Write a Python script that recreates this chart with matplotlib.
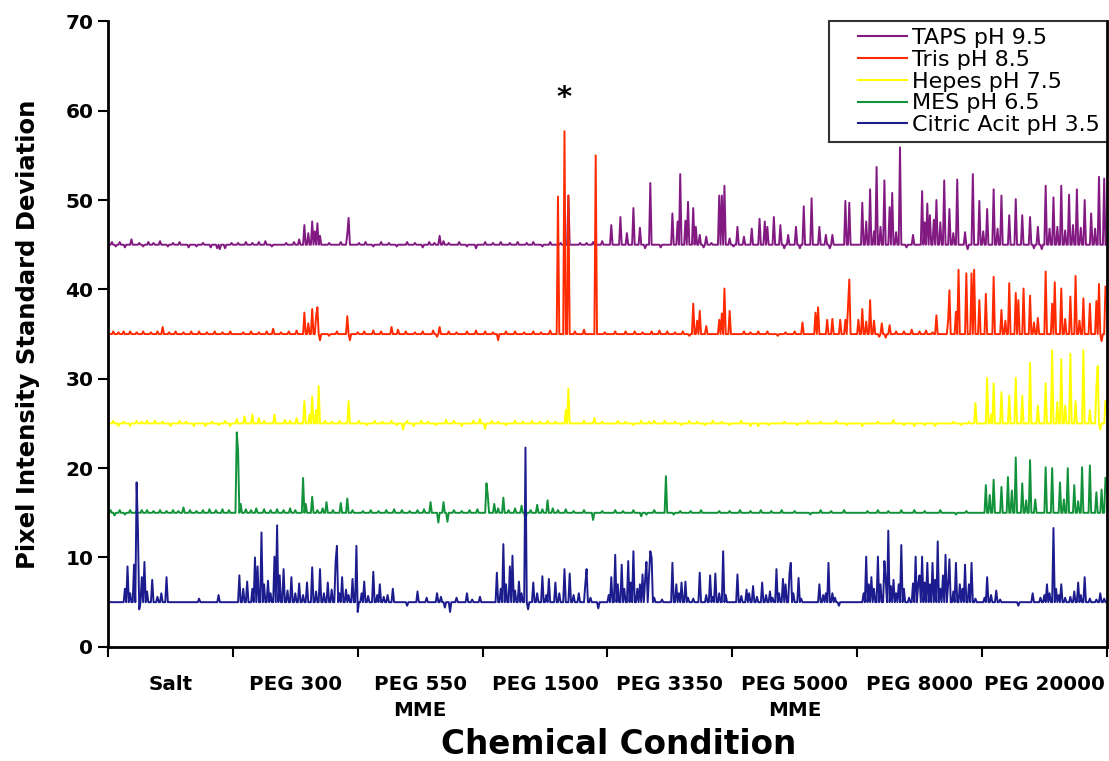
import numpy as np
import matplotlib as mpl
mpl.use('Agg')
import matplotlib.pyplot as plt
from matplotlib.legend_handler import HandlerLine2D

plt.rcParams['font.family'] = ['DejaVu Sans']

## 8 groups of 96 screening conditions
groups = ["Salt", "PEG 300", "PEG 550\nMME", "PEG 1500", "PEG 3350",
          "PEG 5000\nMME", "PEG 8000", "PEG 20000"]
per_group = 96

names = ["TAPS pH 9.5", "Tris pH 8.5", "Hepes pH 7.5", "MES pH 6.5", "Citric Acit pH 3.5"]
colors = ["#821a82", "#ff2a00", "#ffff00", "#12923a", "#1c1c8e"]
baselines = [45, 35, 25, 15, 5]

## (condition, std dev) for every point that leaves the baseline
taps = [(18, 45.6), (40, 45.4), (62, 44.7), (90, 44.6), (151, 47.2), (154, 46.3),
        (157, 47.6), (159, 46.5), (161, 47.4), (163, 46.0), (185, 48.0), (184, 46.2),
        (255, 46.0), (354, 50.5), (387, 47.2), (394, 48.1), (399, 46.3), (404, 49.1),
        (409, 46.9), (417, 51.9), (434, 48.5), (438, 47.6), (440, 52.9), (444, 47.7),
        (446, 49.8), (450, 49.1), (452, 47.0), (455, 46.1), (460, 45.9), (470, 50.5),
        (472, 50.5), (474, 51.6), (478, 45.7), (484, 47.0), (489, 45.9), (495, 46.8),
        (501, 47.9), (505, 47.6), (507, 47.0), (512, 48.1), (517, 47.2), (523, 46.1),
        (529, 47.0), (535, 49.3), (541, 50.2), (547, 47.0), (552, 46.1), (557, 46.1),
        (567, 49.9), (570, 49.7), (580, 49.7), (583, 47.6), (586, 51.2), (589, 46.5),
        (591, 53.7), (594, 47.0), (597, 52.2), (601, 49.2), (603, 50.8), (606, 46.4),
        (609, 55.9), (619, 46.1), (626, 51.0), (628, 47.5), (630, 49.6), (632, 48.3),
        (635, 47.8), (637, 50.0), (640, 47.5), (643, 52.2), (647, 49.0), (650, 46.3),
        (653, 52.3), (659, 46.4), (665, 52.9), (670, 49.9), (673, 46.5), (676, 49.0),
        (681, 51.2), (684, 46.8), (687, 50.5), (693, 48.3), (698, 50.1), (703, 48.3),
        (709, 48.1), (715, 47.0), (721, 51.6), (724, 46.8), (727, 50.3), (730, 47.0),
        (733, 51.6), (736, 46.6), (739, 50.6), (742, 47.2), (745, 51.2), (748, 46.9),
        (751, 50.0), (756, 48.5), (759, 46.8), (762, 52.6), (766, 52.4),
        # small wobble along the baseline
        (3, 45.3), (6, 44.8), (9, 45.3), (13, 44.7), (24, 45.2), (27, 44.8),
        (31, 45.3), (35, 45.2), (46, 44.8), (50, 45.2), (55, 45.3), (68, 44.8),
        (73, 45.2), (79, 44.7), (84, 44.6), (86, 44.5), (95, 45.2), (100, 45.2),
        (106, 45.3), (111, 45.2), (116, 45.3), (121, 45.4), (126, 44.8), (137, 45.2),
        (143, 45.3), (147, 45.6), (170, 45.2), (179, 45.3), (193, 45.2), (198, 45.3),
        (204, 44.8), (210, 45.3), (216, 45.2), (222, 44.8), (230, 45.3), (236, 45.2),
        (242, 44.7), (247, 45.3), (251, 45.2), (258, 45.4), (262, 45.2), (270, 45.3),
        (276, 44.8), (283, 44.6), (290, 45.3), (296, 45.2), (302, 45.3), (309, 45.2),
        (315, 45.3), (322, 45.2), (327, 45.3), (334, 44.8), (340, 45.3), (348, 45.2),
        (363, 45.2), (368, 45.2), (373, 45.3), (380, 45.4), (413, 44.6), (425, 44.7),
        (458, 44.7), (464, 45.2), (481, 44.8), (520, 44.6), (532, 44.6), (555, 44.6),
        (614, 44.7), (661, 44.5), (712, 44.6), (718, 44.5)]

tris = [(12, 35.3), (42, 35.8), (70, 35.3), (127, 35.6), (151, 37.4), (154, 36.2),
        (157, 37.8), (160, 37.0), (161, 38.0), (163, 34.3), (184, 37.0), (186, 34.3),
        (218, 35.8), (255, 35.8), (300, 34.3), (346, 50.4), (351, 57.7), (354, 50.5),
        (375, 55.0), (398, 35.3), (450, 38.4), (453, 36.5), (455, 37.6), (460, 35.9),
        (470, 36.6), (472, 37.3), (474, 40.1), (478, 37.6), (534, 36.3), (544, 37.4),
        (546, 38.0), (553, 36.6), (557, 36.7), (563, 36.6), (567, 36.6), (569, 38.0),
        (570, 41.1), (577, 36.6), (580, 37.8), (583, 36.4), (586, 38.8), (589, 36.5),
        (595, 36.2), (601, 36.0), (618, 35.5), (637, 37.1), (646, 36.5), (647, 39.9),
        (652, 37.5), (654, 42.2), (660, 41.8), (664, 41.8), (666, 42.2), (670, 38.8),
        (675, 39.5), (681, 41.4), (687, 37.7), (690, 36.5), (693, 40.7), (698, 39.6),
        (700, 38.8), (704, 40.1), (709, 39.3), (712, 36.3), (715, 36.8), (721, 42.0),
        (726, 38.4), (728, 40.8), (733, 40.1), (736, 36.7), (740, 39.2), (744, 41.5),
        (747, 36.5), (750, 39.0), (755, 38.4), (760, 38.7), (762, 40.6), (764, 34.2),
        (767, 40.3),
        # small wobble along the baseline
        (4, 35.3), (8, 35.2), (17, 35.3), (22, 35.2), (27, 35.3), (33, 35.2),
        (38, 35.3), (47, 35.2), (52, 35.3), (58, 35.2), (64, 35.3), (76, 35.2),
        (82, 35.3), (88, 35.2), (94, 35.3), (104, 35.2), (110, 35.3), (116, 35.2),
        (122, 35.3), (133, 35.2), (139, 35.3), (145, 35.4), (170, 34.8), (176, 35.3),
        (192, 35.2), (197, 35.3), (204, 35.4), (210, 35.3), (223, 35.5), (229, 35.3),
        (236, 35.2), (242, 35.3), (250, 35.4), (253, 34.7), (262, 35.3), (268, 35.2),
        (276, 35.3), (283, 35.4), (290, 35.3), (296, 35.2), (306, 35.3), (313, 35.3),
        (320, 35.2), (327, 35.3), (333, 35.2), (340, 35.4), (359, 35.3), (366, 35.5),
        (382, 35.2), (390, 35.3), (405, 35.3), (411, 35.2), (418, 35.3), (424, 35.4),
        (430, 35.3), (436, 35.2), (442, 35.3), (447, 34.8), (489, 35.3), (494, 35.2),
        (500, 35.3), (507, 35.3), (515, 34.8), (521, 35.2), (528, 35.3), (593, 34.7),
        (598, 34.6), (606, 35.3), (612, 35.3), (624, 35.3), (629, 35.4), (634, 35.2)]

hepes = [(8, 24.7), (30, 25.3), (75, 24.7), (99, 25.5), (105, 25.8), (111, 26.0),
         (116, 25.6), (128, 26.0), (145, 25.6), (151, 27.5), (155, 26.0), (157, 28.0),
         (160, 26.5), (162, 29.2), (185, 27.5), (227, 24.3), (260, 25.4), (290, 24.4),
         (352, 26.5), (354, 28.9), (374, 25.6), (420, 25.3), (500, 24.7), (560, 25.3),
         (604, 25.4), (667, 27.3), (676, 30.1), (679, 26.0), (681, 29.5), (687, 28.5),
         (693, 28.1), (698, 30.1), (703, 28.1), (709, 31.8), (715, 27.0), (721, 29.5),
         (726, 33.2), (730, 27.4), (733, 32.2), (736, 27.0), (740, 32.8), (744, 27.5),
         (750, 33.2), (755, 26.5), (760, 29.0), (761, 31.4), (763, 24.3), (767, 27.5),
         # small wobble along the baseline
         (4, 25.3), (12, 25.2), (17, 24.7), (22, 25.3), (26, 25.2), (36, 25.3),
         (42, 25.2), (48, 24.7), (55, 25.3), (60, 25.2), (66, 24.7), (80, 25.2),
         (85, 24.8), (90, 25.3), (94, 24.7), (120, 25.3), (136, 25.4), (140, 25.3),
         (167, 25.3), (172, 25.2), (178, 25.3), (193, 25.3), (199, 24.8), (205, 25.3),
         (211, 25.2), (218, 25.3), (222, 24.8), (230, 25.3), (235, 24.7), (241, 25.3),
         (246, 25.2), (252, 24.8), (266, 25.3), (272, 24.7), (281, 25.3), (286, 25.5),
         (295, 25.3), (300, 25.2), (306, 24.8), (313, 25.3), (319, 25.2), (326, 25.3),
         (332, 25.2), (338, 25.3), (344, 25.2), (366, 25.3), (380, 25.2), (392, 25.3),
         (398, 25.2), (404, 24.8), (410, 25.3), (416, 25.2), (428, 25.3), (436, 25.2),
         (441, 24.8), (447, 25.3), (453, 25.2), (459, 24.8), (465, 25.3), (472, 25.2),
         (478, 24.8), (487, 25.3), (494, 24.7), (508, 24.8), (520, 25.2), (530, 24.8),
         (538, 25.3), (548, 25.2), (568, 24.8), (580, 24.7), (592, 25.2), (612, 24.8),
         (620, 24.7), (628, 24.8), (636, 24.7), (650, 25.2), (656, 24.8), (662, 25.2)]

mes = [(5, 14.7), (30, 15.3), (58, 15.6), (99, 24.0), (100, 22.0), (102, 16.0),
       (120, 15.4), (150, 18.9), (152, 16.0), (157, 16.8), (168, 16.2), (179, 16.1),
       (184, 16.6), (248, 16.2), (254, 13.9), (258, 16.2), (261, 14.0), (291, 18.3),
       (292, 17.0), (297, 16.0), (304, 16.7), (318, 15.8), (321, 14.2), (330, 15.9),
       (338, 16.4), (373, 14.2), (410, 14.6), (429, 19.1), (470, 15.2), (540, 14.8),
       (620, 15.3), (675, 18.1), (678, 17.0), (681, 18.7), (687, 17.9), (692, 19.0),
       (695, 17.5), (698, 21.2), (703, 18.3), (706, 16.4), (709, 20.9), (713, 16.5),
       (721, 20.1), (726, 20.0), (732, 18.4), (735, 16.5), (738, 20.0), (743, 18.1),
       (746, 16.3), (749, 20.1), (755, 20.3), (760, 17.3), (764, 17.6), (767, 18.9),
       # small wobble along the baseline
       (2, 15.3), (9, 15.3), (13, 14.8), (17, 15.3), (22, 15.2), (26, 15.3),
       (35, 15.2), (40, 15.3), (45, 15.2), (50, 15.3), (54, 15.2), (63, 15.3),
       (68, 15.2), (73, 15.3), (78, 15.4), (83, 15.3), (88, 15.4), (93, 15.3),
       (106, 15.4), (110, 15.3), (114, 15.5), (125, 15.3), (130, 15.4), (135, 15.3),
       (140, 15.5), (144, 15.3), (161, 15.3), (165, 15.5), (173, 15.3), (188, 15.3),
       (196, 15.2), (202, 15.3), (208, 15.2), (214, 15.3), (220, 15.4), (226, 15.3),
       (232, 15.2), (238, 15.3), (243, 15.4), (266, 15.3), (272, 15.2), (278, 15.3),
       (284, 15.4), (300, 15.5), (308, 15.3), (313, 15.5), (325, 15.3), (334, 15.4),
       (342, 15.5), (346, 15.3), (352, 15.4), (358, 15.2), (366, 15.3), (380, 15.2),
       (390, 15.3), (396, 15.2), (404, 15.3), (414, 14.8), (420, 15.3), (435, 14.8),
       (440, 15.2), (448, 15.2), (456, 15.3), (478, 15.2), (486, 15.3), (494, 15.2),
       (502, 15.3), (510, 15.2), (518, 15.3), (528, 15.2), (548, 15.3), (556, 15.2),
       (566, 15.3), (584, 15.2), (592, 15.3), (600, 15.2), (610, 15.3), (628, 15.2),
       (640, 15.3), (652, 14.8), (660, 15.2)]

citric = [(15, 9.0), (20, 9.2), (22, 18.4), (23, 13.1), (24, 4.2), (26, 7.8),
          (28, 9.5), (34, 7.5), (45, 7.8), (70, 5.4), (85, 5.8), (101, 8.0),
          (104, 6.5), (107, 7.3), (113, 10.0), (115, 9.0), (118, 12.8), (120, 7.0),
          (123, 7.4), (128, 10.1), (130, 13.6), (132, 8.0), (135, 8.7), (141, 7.8),
          (147, 7.1), (153, 7.2), (157, 8.9), (163, 8.7), (169, 7.2), (175, 9.5),
          (176, 11.3), (180, 7.8), (188, 7.6), (191, 11.3), (192, 3.9), (197, 7.3),
          (204, 8.4), (209, 7.0), (219, 6.5), (238, 6.2), (253, 6.0), (263, 3.9),
          (276, 6.0), (299, 8.3), (304, 11.5), (309, 9.0), (311, 10.2), (316, 7.3),
          (321, 22.3), (323, 4.2), (327, 7.2), (334, 7.9), (339, 7.6), (344, 7.2),
          (351, 8.7), (355, 8.2), (367, 7.0), (368, 8.7), (377, 4.3), (387, 7.8),
          (390, 10.3), (395, 9.2), (400, 9.6), (404, 10.7), (407, 6.5), (411, 8.1),
          (414, 9.5), (417, 10.7), (418, 10.0), (434, 9.4), (437, 7.0), (441, 7.2),
          (444, 7.3), (455, 8.3), (463, 8.0), (467, 8.2), (473, 10.7), (484, 8.1),
          (491, 6.4), (496, 6.8), (503, 7.2), (509, 6.2), (514, 8.7), (519, 7.6),
          (524, 8.2), (525, 9.4), (531, 7.7), (547, 7.0), (554, 9.4), (557, 6.0),
          (583, 10.1), (587, 7.8), (592, 10.1), (597, 9.6), (600, 13.0), (604, 7.5),
          (610, 11.4), (619, 7.1), (621, 10.1), (626, 10.1), (630, 9.4), (634, 9.4),
          (638, 11.8), (644, 10.3), (647, 9.8), (652, 9.4), (659, 9.2), (664, 9.4),
          (676, 7.8), (683, 6.3), (711, 6.0), (722, 7.0), (727, 13.3), (733, 7.0),
          (746, 7.2), (751, 7.8), (763, 6.0),
          # filler inside the busy stretches
          (13, 6.5), (17, 6.0), (30, 6.2), (38, 5.6), (41, 6.0), (111, 6.5),
          (125, 6.0), (138, 6.3), (144, 6.0), (150, 5.8), (160, 6.2), (166, 6.0),
          (172, 6.4), (178, 6.0), (183, 6.4), (185, 5.8), (195, 6.0), (200, 5.7),
          (207, 5.8), (212, 5.6), (215, 5.8), (230, 4.6), (245, 5.5), (256, 5.6),
          (259, 4.4), (268, 5.5), (280, 5.3), (286, 5.6), (302, 6.5), (306, 7.0),
          (313, 6.3), (318, 6.0), (330, 6.0), (337, 5.8), (347, 6.0), (358, 5.8),
          (362, 6.0), (371, 5.5), (385, 5.8), (392, 7.0), (397, 6.5), (402, 7.2),
          (409, 7.0), (413, 7.5), (416, 8.0), (420, 5.5), (426, 5.3), (439, 6.0),
          (446, 5.5), (450, 5.4), (460, 5.8), (465, 5.6), (470, 6.0), (475, 5.8),
          (487, 5.7), (493, 6.0), (499, 5.6), (506, 5.8), (511, 5.5), (516, 6.0),
          (521, 7.0), (527, 6.0), (533, 5.4), (550, 5.8), (552, 6.0), (559, 5.5),
          (562, 4.6), (581, 6.0), (585, 7.0), (589, 6.5), (594, 7.0), (598, 7.5),
          (602, 6.8), (606, 6.0), (608, 7.0), (612, 6.5), (616, 5.5), (623, 7.0),
          (624, 8.0), (628, 7.2), (632, 7.0), (636, 7.5), (640, 6.5), (642, 8.0),
          (646, 7.0), (650, 6.2), (655, 7.0), (657, 6.5), (662, 7.0), (667, 5.4),
          (674, 5.5), (679, 5.8), (686, 5.3), (700, 4.6), (717, 5.5), (720, 5.8),
          (724, 6.0), (729, 6.5), (731, 5.8), (736, 5.5), (740, 5.6), (743, 6.2),
          (748, 5.8), (755, 5.4), (760, 5.3), (766, 5.4)]

spikes = [taps, tris, hepes, mes, citric]

n = per_group * len(groups)
x = np.arange(n)

fig = plt.figure(figsize=(11.09, 7.61), dpi=100)
ax = fig.add_axes([0.0974, 0.150, 0.9006, 0.822])

for name, col, base, pts in zip(names, colors, baselines, spikes):
    y = np.full(n, float(base))
    for i, v in pts:
        y[i] = v
    ax.plot(x, y, color=col, lw=1.4, label=name)

ax.text(351, 61.4, "*", ha='center', va='center', fontsize=21, fontweight='bold')

ax.set_xlim(0, n)
ax.set_ylim(0, 70)
ax.set_yticks(range(0, 71, 10))
ax.set_xticks(np.arange(0, n + 1, per_group))
ax.set_xticklabels([])
ax.set_xticks(np.arange(per_group / 2, n, per_group), minor=True)
ax.set_xticklabels(groups, minor=True, fontsize=14.3, fontweight='bold', va='top',
                   linespacing=1.5)
ax.tick_params(axis='x', which='minor', length=0, pad=20)
ax.tick_params(axis='x', which='major', direction='out', length=7, width=1.5)
ax.tick_params(axis='y', direction='out', length=7, width=1.5, labelsize=14.5)
for lab in ax.get_yticklabels():
    lab.set_fontweight('bold')

ax.spines['top'].set_visible(False)
for s in ['left', 'bottom', 'right']:
    ax.spines[s].set_linewidth(2)

ax.set_ylabel("Pixel Intensity Standard Deviation", fontsize=17.5, fontweight='bold', labelpad=18)
ax.set_xlabel("Chemical Condition", fontsize=23.5, fontweight='bold')
ax.xaxis.set_label_coords(0.5115, -0.13)

# legend lines sit inset from the frame's left edge
leg = ax.legend(loc='upper right', fontsize=16, frameon=True, fancybox=False,
                borderaxespad=0, handlelength=3.2, handletextpad=0.25,
                labelspacing=0.08, borderpad=0.3,
                handler_map={mpl.lines.Line2D: HandlerLine2D(xpad=1.0)})
leg.get_frame().set_edgecolor('black')
leg.get_frame().set_linewidth(1.5)
for line in leg.get_lines():
    line.set_linewidth(1.5)

fig.savefig("out.png", dpi=100)
